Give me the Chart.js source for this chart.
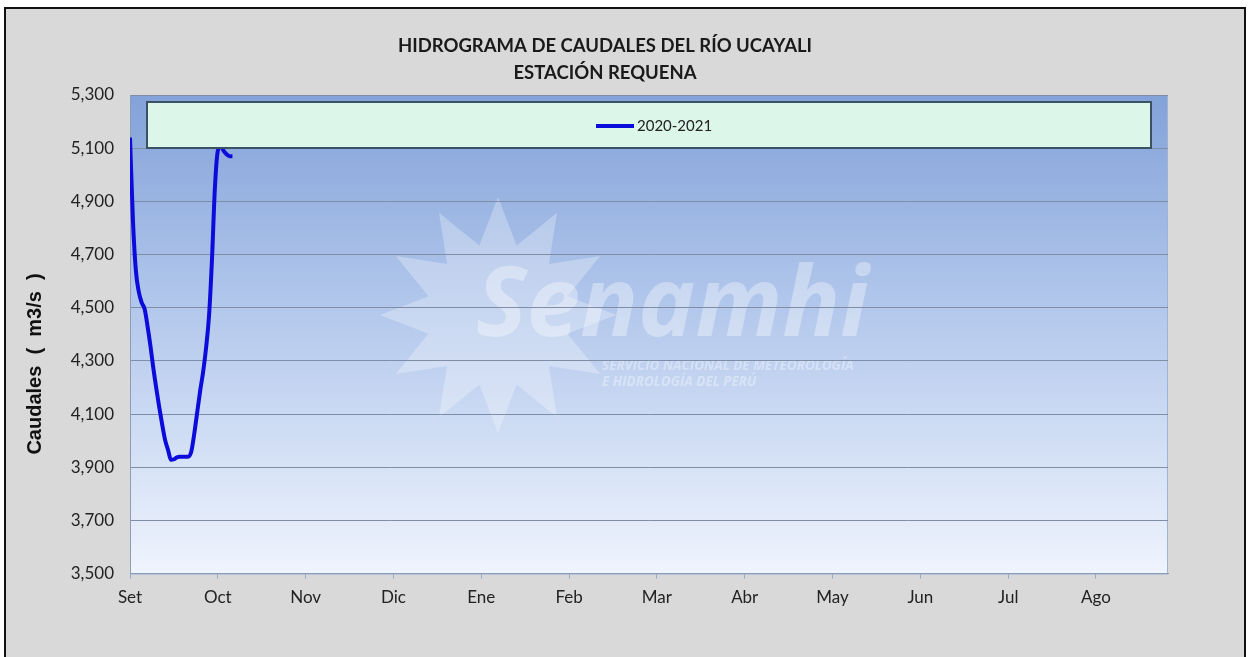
<!DOCTYPE html>
<html>
<head>
<meta charset="utf-8">
<script src="https://cdn.jsdelivr.net/npm/chart.js@4/dist/chart.umd.min.js"></script>
<style>
  html, body { margin: 0; padding: 0; background: #ffffff; }
  #wrap { position: relative; width: 1251px; height: 657px; }
</style>
</head>
<body>
<div id="wrap"><canvas id="c" width="1251" height="657"></canvas></div>
<script>
// ---- Data ----
const titleLines = ['HIDROGRAMA DE CAUDALES DEL RÍO UCAYALI', 'ESTACIÓN REQUENA'];
const yAxisTitle = 'Caudales  (  m3/s  )';
const monthLabels = ['Set', 'Oct', 'Nov', 'Dic', 'Ene', 'Feb', 'Mar', 'Abr', 'May', 'Jun', 'Jul', 'Ago'];
const seriesName = '2020-2021';
// day offset from 1 Sep
const days = [0, 1, 2, 3, 4, 5, 6, 7, 8, 9, 10, 11, 12, 13, 14, 15, 16, 17, 18, 19, 20, 21, 22, 23, 24, 25, 26, 27, 28, 29, 30, 31, 32, 33, 34, 35];
// caudal (m3/s)
const caudal = [5140, 4830, 4640, 4560, 4519, 4495, 4430, 4355, 4270, 4195, 4125, 4060, 4002, 3965, 3928, 3930, 3937, 3939, 3939, 3939, 3940, 3962, 4030, 4110, 4190, 4260, 4350, 4470, 4680, 4950, 5090, 5108, 5090, 5077, 5070, 5070];
const yTicks = [3500, 3700, 3900, 4100, 4300, 4500, 4700, 4900, 5100, 5300];

const lineColor = '#0b0bdc';

const framePlugin = {
  id: 'frame',
  beforeDraw(chart) {
    const ctx = chart.ctx;
    ctx.save();
    ctx.fillStyle = '#ffffff';
    ctx.fillRect(0, 0, chart.width, chart.height);
    ctx.fillStyle = '#d9d9d9';
    ctx.fillRect(5, 8, 1240, 660);
    ctx.strokeStyle = '#111111';
    ctx.lineWidth = 2;
    ctx.strokeRect(5, 8, 1240, 700);
    // title
    ctx.fillStyle = '#1a1a1a';
    ctx.font = 'bold 18.5px Lato, sans-serif';
    ctx.textAlign = 'center';
    ctx.textBaseline = 'middle';
    ctx.fillText(titleLines[0], 605, 46);
    ctx.fillText(titleLines[1], 605, 73);
    // y axis title
    ctx.save();
    ctx.translate(35, 364);
    ctx.rotate(-Math.PI / 2);
    ctx.fillStyle = '#111111';
    ctx.font = 'bold 20px "Liberation Sans", Arial, sans-serif';
    ctx.fillText(yAxisTitle, 0, 0);
    ctx.restore();
    // plot area gradient
    const a = chart.chartArea;
    const g = ctx.createLinearGradient(0, a.top, 0, a.bottom);
    g.addColorStop(0, '#83a2d9');
    g.addColorStop(0.45, '#b3c8ec');
    g.addColorStop(1, '#eff4fd');
    ctx.fillStyle = g;
    ctx.fillRect(a.left, a.top, a.right - a.left, a.bottom - a.top);
    ctx.strokeStyle = '#9fb3d4';
    ctx.lineWidth = 1;
    ctx.strokeRect(a.left + 0.5, a.top + 0.5, a.right - a.left - 1, a.bottom - a.top);
    // watermark
    ctx.globalAlpha = 0.28;
    ctx.fillStyle = '#ffffff';
    const cx = 498, cy = 315;
    ctx.beginPath();
    const n = 12;
    for (let i = 0; i <= n * 2; i++) {
      const ang = -Math.PI / 2 + i * Math.PI / n;
      const r = (i % 2 === 0) ? 118 : 72;
      const x = cx + r * Math.cos(ang), y = cy + r * Math.sin(ang);
      if (i === 0) ctx.moveTo(x, y); else ctx.lineTo(x, y);
    }
    ctx.closePath();
    ctx.fill();
    ctx.globalAlpha = 0.35;
    ctx.font = 'italic bold 96px "Open Sans", sans-serif';
    ctx.textBaseline = 'alphabetic';
    ctx.textAlign = 'left';
    ctx.fillText('Senamhi', 476, 336);
    ctx.font = 'italic bold 13.5px "Open Sans", sans-serif';
    ctx.fillText('SERVICIO NACIONAL DE METEOROLOGÍA', 602, 370);
    ctx.fillText('E HIDROLOGÍA DEL PERÚ', 602, 386);
    ctx.restore();
  }
};

const legendBoxPlugin = {
  id: 'legendBox',
  afterDatasetsDraw(chart) {
    const ctx = chart.ctx;
    const a = chart.chartArea;
    ctx.save();
    const x0 = a.left + 17, y0 = a.top + 7, w = 1004, h = 46;
    ctx.fillStyle = '#dcf6e9';
    ctx.fillRect(x0, y0, w, h);
    ctx.strokeStyle = '#3b5264';
    ctx.lineWidth = 2;
    ctx.strokeRect(x0, y0, w, h);
    const ds = chart.data.datasets[0];
    ctx.strokeStyle = ds.borderColor;
    ctx.lineWidth = 4;
    ctx.beginPath();
    ctx.moveTo(596, y0 + 24);
    ctx.lineTo(634, y0 + 24);
    ctx.stroke();
    ctx.fillStyle = '#222222';
    ctx.font = '15px Lato, sans-serif';
    ctx.textBaseline = 'middle';
    ctx.textAlign = 'left';
    ctx.fillText(ds.label, 637, y0 + 24);
    ctx.restore();
  }
};

new Chart(document.getElementById('c'), {
  type: 'line',
  data: {
    datasets: [{
      label: seriesName,
      data: days.map((d, i) => ({ x: d, y: caudal[i] })),
      borderColor: lineColor,
      backgroundColor: lineColor,
      borderWidth: 4,
      pointRadius: 0,
      tension: 0.3,
      cubicInterpolationMode: 'monotone',
      fill: false
    }]
  },
  options: {
    responsive: false,
    animation: false,
    layout: { padding: { left: 20, right: 83, bottom: 40, top: 95 } },
    plugins: {
      legend: { display: false },
      tooltip: { enabled: false },
      title: { display: false }
    },
    scales: {
      x: {
        type: 'linear',
        min: 0,
        max: 354.6,
        afterBuildTicks(scale) {
          scale.ticks = monthLabels.map((m, i) => ({ value: i * 30 }));
        },
        ticks: {
          callback: (v) => monthLabels[Math.round(v / 30)],
          color: '#222222',
          font: { family: 'Lato', size: 17 },
          padding: 9,
          maxRotation: 0,
          autoSkip: false
        },
        grid: { display: true, drawOnChartArea: false, drawTicks: true, tickLength: 5, color: '#9aa9c2' },
        border: { display: true, color: '#8d9db7', width: 1 }
      },
      y: {
        min: 3500,
        max: 5300,
        afterBuildTicks(scale) {
          scale.ticks = yTicks.map(v => ({ value: v }));
        },
        ticks: {
          callback: (v) => v.toLocaleString('en-US'),
          color: '#222222',
          font: { family: 'Lato', size: 17 },
          padding: 16
        },
        grid: { color: '#7f8ea6', lineWidth: 1, drawTicks: false },
        border: { display: true, color: '#8d9db7', width: 1 },
        title: { display: false },
        afterFit(scale) { scale.width = 110; }
      }
    }
  },
  plugins: [framePlugin, legendBoxPlugin]
});
</script>
</body>
</html>
